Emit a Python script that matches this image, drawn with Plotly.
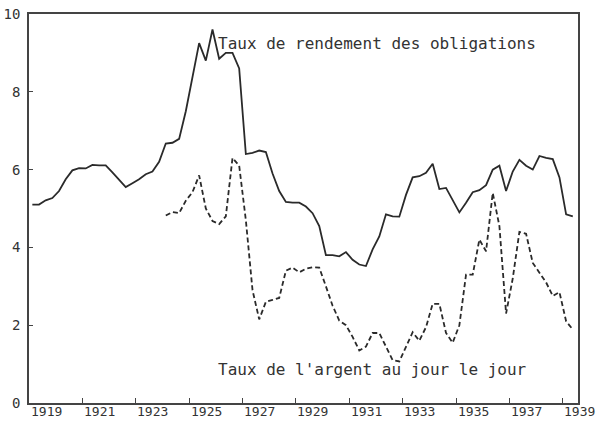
import plotly.graph_objects as go

# Quarterly observations, first quarter of 1919 onward (x = mid-quarter)
start_year = 1919.125
bond_yield = [
    5.10, 5.10, 5.21, 5.27, 5.45, 5.75, 5.98, 6.04, 6.03, 6.12,
    6.11, 6.11, 5.93, 5.75, 5.55, 5.65, 5.75, 5.88, 5.95, 6.20,
    6.67, 6.69, 6.79, 7.50, 8.40, 9.25, 8.80, 9.60, 8.85, 9.00,
    9.00, 8.60, 6.40, 6.43, 6.49, 6.45, 5.90, 5.45, 5.17, 5.15,
    5.15, 5.05, 4.88, 4.55, 3.80, 3.80, 3.77, 3.88, 3.68, 3.56,
    3.52, 3.95, 4.28, 4.85, 4.80, 4.79, 5.35, 5.80, 5.83, 5.92,
    6.15, 5.50, 5.53, 5.20, 4.90, 5.15, 5.42, 5.47, 5.60, 6.00,
    6.10, 5.45, 5.95, 6.25, 6.10, 6.00, 6.35, 6.30, 6.27, 5.80,
    4.85, 4.80,
]
# Call money rate starts in the first quarter of 1924 (index 20)
call_start_index = 20
call_money = [
    4.82, 4.91, 4.88, 5.20, 5.42, 5.85, 5.00, 4.68, 4.60, 4.80,
    6.30, 6.10, 4.70, 2.90, 2.15, 2.60, 2.65, 2.70, 3.40, 3.48,
    3.36, 3.45, 3.49, 3.48, 3.00, 2.50, 2.12, 2.00, 1.70, 1.35,
    1.45, 1.80, 1.80, 1.45, 1.10, 1.07, 1.45, 1.82, 1.60, 1.95,
    2.55, 2.55, 1.80, 1.55, 2.00, 3.30, 3.30, 4.20, 3.90, 5.40,
    4.55, 2.30, 3.20, 4.40, 4.35, 3.60, 3.35, 3.10, 2.75, 2.85,
    2.10, 1.89,
]
year_ticks = list(range(1919, 1940, 2))
y_ticks = [0, 2, 4, 6, 8, 10]
label_bond = "Taux de rendement des obligations"
label_call = "Taux de l'argent au jour le jour"

x_bond = [start_year + 0.25 * i for i in range(len(bond_yield))]
x_call = [start_year + 0.25 * (call_start_index + i) for i in range(len(call_money))]

X_RANGE = [1919, 1939.57]
FONT = "DejaVu Sans Mono"
INK = "#2a2a2a"

fig = go.Figure()
fig.add_trace(go.Scatter(x=x_bond, y=bond_yield, mode="lines",
                         line=dict(color=INK, width=1.8), showlegend=False))
fig.add_trace(go.Scatter(x=x_call, y=call_money, mode="lines",
                         line=dict(color=INK, width=1.8, dash="5px,3px"),
                         showlegend=False))

# year labels sit slightly to the right of their tick marks
span = X_RANGE[1] - X_RANGE[0]
for yr in year_ticks:
    fig.add_annotation(x=(yr + 0.64 - X_RANGE[0]) / span, y=0, xref="paper", yref="paper",
                       text=str(yr), showarrow=False, xanchor="center", yanchor="top",
                       yshift=1, font=dict(family=FONT, size=13, color="#333"))

fig.add_annotation(x=1926.0, y=9.24, xref="x", yref="y", text=label_bond,
                   showarrow=False, xanchor="left", yanchor="middle",
                   font=dict(family=FONT, size=16, color="#333"))
fig.add_annotation(x=1926.0, y=0.86, xref="x", yref="y", text=label_call,
                   showarrow=False, xanchor="left", yanchor="middle",
                   font=dict(family=FONT, size=16, color="#333"))

fig.update_layout(
    width=601, height=424,
    margin=dict(l=29, r=23, t=14, b=21),
    paper_bgcolor="white", plot_bgcolor="white",
    font=dict(family=FONT, color="#333"),
    xaxis=dict(range=X_RANGE, tickvals=year_ticks, ticktext=["" for _ in year_ticks],
               ticks="inside", ticklen=5, tickcolor="#444", tickwidth=1.2,
               showgrid=False, zeroline=False, showline=True, linecolor="#444",
               linewidth=1.5, mirror=True, automargin=False),
    yaxis=dict(range=[0, 10], tickvals=y_ticks, ticks="inside", ticklen=4,
               tickcolor="#444", showgrid=False, zeroline=False, showline=True,
               linecolor="#444", linewidth=1.5, mirror=True, automargin=False,
               ticklabelstandoff=4,
               tickfont=dict(family=FONT, size=14, color="#333")),
)

fig.write_html("out.html", config={"displayModeBar": False},
               post_script="document.body.style.margin='0';document.body.style.overflow='hidden';")
